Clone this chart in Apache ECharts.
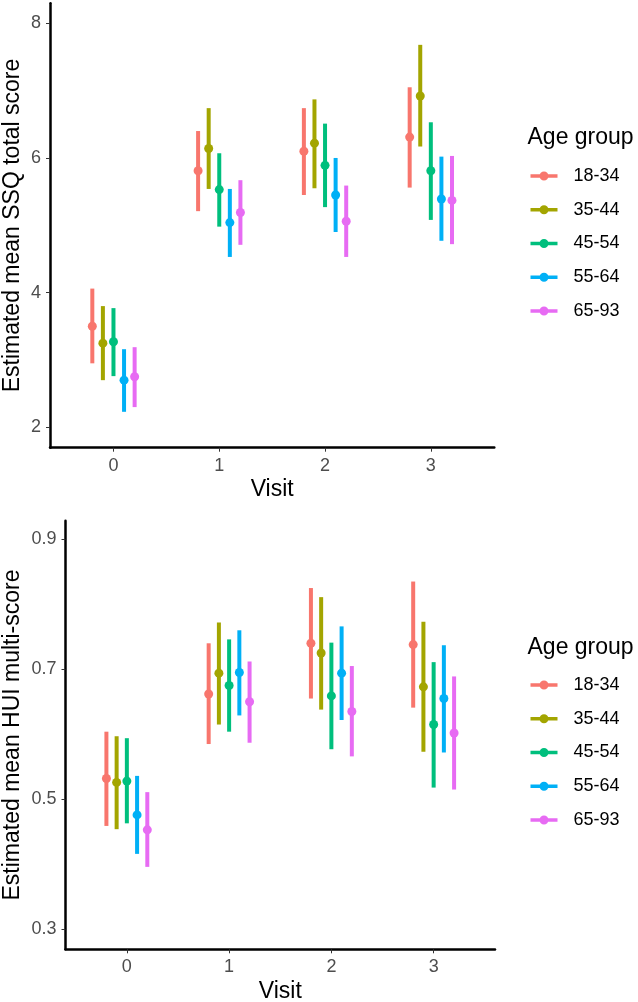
<!DOCTYPE html>
<html>
<head>
<meta charset="utf-8">
<script src="https://cdn.jsdelivr.net/npm/echarts@6/dist/echarts.min.js"></script>
<style>
html,body{margin:0;padding:0;background:#fff;}
#chart{width:638px;height:1002px;}
</style>
</head>
<body>
<div id="chart"></div>
<script>
const visits = [0, 1, 2, 3];
const groups = ['18-34', '35-44', '45-54', '55-64', '65-93'];
const colors = ['#F8766D', '#A3A500', '#00BF7D', '#00B0F6', '#E76BF3'];

// SSQ total score (rows: age groups, columns: visits)
const ssqMean = [[3.50, 5.81, 6.10, 6.31], [3.25, 6.14, 6.22, 6.92], [3.27, 5.53, 5.89, 5.81], [2.70, 5.04, 5.45, 5.39], [2.75, 5.19, 5.06, 5.37]];
const ssqLow  = [[2.95, 5.21, 5.45, 5.56], [2.70, 5.54, 5.55, 6.17], [2.76, 4.98, 5.27, 5.08], [2.23, 4.53, 4.90, 4.77], [2.30, 4.71, 4.53, 4.72]];
const ssqHigh = [[4.06, 6.40, 6.74, 7.05], [3.80, 6.74, 6.87, 7.68], [3.77, 6.07, 6.51, 6.53], [3.16, 5.54, 6.00, 6.02], [3.19, 5.67, 5.59, 6.03]];

// HUI multi-score
const huiMean = [[0.532, 0.662, 0.740, 0.738], [0.526, 0.694, 0.725, 0.673], [0.528, 0.675, 0.659, 0.615], [0.476, 0.695, 0.694, 0.655], [0.453, 0.650, 0.635, 0.602]];
const huiLow  = [[0.459, 0.585, 0.655, 0.641], [0.454, 0.615, 0.638, 0.573], [0.463, 0.604, 0.577, 0.518], [0.416, 0.629, 0.622, 0.572], [0.396, 0.587, 0.566, 0.515]];
const huiHigh = [[0.604, 0.740, 0.825, 0.835], [0.597, 0.772, 0.811, 0.773], [0.594, 0.746, 0.741, 0.711], [0.536, 0.760, 0.766, 0.737], [0.511, 0.712, 0.705, 0.689]];

const xTicks = [0, 1, 2, 3];
const ssqTicks = [2, 4, 6, 8];
const huiTicks = [0.3, 0.5, 0.7, 0.9];

const FONT = 'Liberation Sans, Arial, sans-serif';
const dodge = 0.1;

function xAxis(gridIndex, gap) {
  return {
    type: 'value', gridIndex, min: -0.6, max: 3.6,
    name: 'Visit', nameLocation: 'middle', nameGap: gap, nameMoveOverlap: false,
    nameTextStyle: { fontFamily: FONT, fontSize: 23, color: '#000' },
    axisLine: { show: true, onZero: false, lineStyle: { color: '#000', width: 2.5 } },
    axisTick: { show: true, customValues: xTicks, length: 4, lineStyle: { color: '#333', width: 1 } },
    axisLabel: { customValues: xTicks, fontFamily: FONT, fontSize: 18, color: '#4D4D4D', margin: 9 },
    splitLine: { show: false }
  };
}
function yAxis(gridIndex, min, max, ticks, name, gap) {
  return {
    type: 'value', gridIndex, min, max,
    name, nameLocation: 'middle', nameGap: gap, nameMoveOverlap: false,
    nameTextStyle: { fontFamily: FONT, fontSize: 23, color: '#000' },
    axisLine: { show: true, onZero: false, lineStyle: { color: '#000', width: 2.5 } },
    axisTick: { show: true, customValues: ticks, length: 4, lineStyle: { color: '#333', width: 1 } },
    axisLabel: { customValues: ticks, fontFamily: FONT, fontSize: 18, color: '#4D4D4D', margin: 9 },
    splitLine: { show: false }
  };
}

const series = [];
function addPanel(p, mean, low, high) {
  groups.forEach((g, gi) => {
    const off = (gi - 2) * dodge;
    series.push({
      type: 'custom', name: g, xAxisIndex: p, yAxisIndex: p,
      itemStyle: { color: colors[gi] },
      encode: { x: 0, y: [1, 2] },
      data: visits.map((v, vi) => [v + off, low[gi][vi], high[gi][vi]]),
      renderItem: (params, api) => {
        const x = api.value(0);
        const a = api.coord([x, api.value(1)]);
        const b = api.coord([x, api.value(2)]);
        return { type: 'line', shape: { x1: a[0], y1: a[1], x2: b[0], y2: b[1] },
                 style: { stroke: colors[gi], lineWidth: 4 } };
      },
      z: 2
    });
    series.push({
      type: 'scatter', name: g, xAxisIndex: p, yAxisIndex: p,
      symbol: 'circle', symbolSize: 9,
      itemStyle: { color: colors[gi], opacity: 1 },
      data: visits.map((v, vi) => [v + off, mean[gi][vi]]),
      z: 3
    });
  });
}
addPanel(0, ssqMean, ssqLow, ssqHigh);
addPanel(1, huiMean, huiLow, huiHigh);

const keyIcon = 'path://M0,2.75h27v3.5h-27z M13.5,0a4.5,4.5 0 1,1 0,9a4.5,4.5 0 1,1 0,-9z';
function legend(top) {
  return {
    orient: 'vertical', left: 530.5, top, padding: 0,
    icon: keyIcon, itemWidth: 27, itemHeight: 9, itemGap: 13.75,
    data: groups,
    textStyle: { fontFamily: FONT, fontSize: 18, color: '#000', lineHeight: 20, padding: [0, 0, 0, 11] },
    selectedMode: false
  };
}

const chart = echarts.init(document.getElementById('chart'), null, { renderer: 'canvas' });
chart.setOption({
  animation: false,
  backgroundColor: '#fff',
  title: [
    { text: 'Age group', left: 527.5, top: 126, padding: 0, textStyle: { fontFamily: FONT, fontSize: 23, fontWeight: 'normal', color: '#000' } },
    { text: 'Age group', left: 527.5, top: 636, padding: 0, textStyle: { fontFamily: FONT, fontSize: 23, fontWeight: 'normal', color: '#000' } }
  ],
  grid: [
    { left: 50, top: 3.3, width: 444.3, height: 444.4, outerBoundsMode: 'none', containLabel: false },
    { left: 65.5, top: 520.7, width: 429.5, height: 428.6, outerBoundsMode: 'none', containLabel: false }
  ],
  xAxis: [xAxis(0, 30), xAxis(1, 31)],
  yAxis: [
    yAxis(0, 1.697, 8.297, ssqTicks, 'Estimated mean SSQ total score', 26),
    yAxis(1, 0.2692, 0.9286, huiTicks, 'Estimated mean HUI multi-score', 41)
  ],
  legend: [legend(166), legend(675)],
  series
});
</script>
</body>
</html>
